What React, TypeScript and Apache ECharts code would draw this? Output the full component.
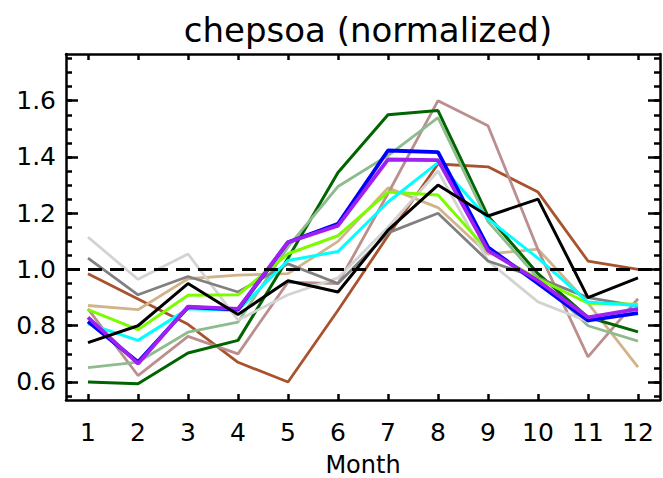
import React, { useEffect, useRef } from "react";
import * as echarts from "echarts";

const months = [1, 2, 3, 4, 5, 6, 7, 8, 9, 10, 11, 12];
const yMajor = [0.6, 0.8, 1.0, 1.2, 1.4, 1.6];
const yMinor = [0.55, 0.6, 0.65, 0.7, 0.75, 0.8, 0.85, 0.9, 0.95, 1.0, 1.05, 1.1, 1.15, 1.2, 1.25, 1.3, 1.35, 1.4, 1.45, 1.5, 1.55, 1.6, 1.65, 1.7, 1.75];

const brown = [0.985, 0.895, 0.805, 0.67, 0.6, 0.855, 1.12, 1.375, 1.365, 1.275, 1.03, 1.0];
const tan = [0.872, 0.857, 0.967, 0.98, 0.985, 1.1, 1.29, 1.22, 1.055, 1.072, 0.88, 0.653];
const rosy = [0.86, 0.623, 0.762, 0.7, 0.955, 0.95, 1.27, 1.6, 1.511, 1.07, 0.689, 0.896];
const darkGreen = [0.6, 0.594, 0.703, 0.748, 1.04, 1.345, 1.55, 1.565, 1.19, 0.985, 0.83, 0.778];
const seaGreen = [0.651, 0.671, 0.777, 0.813, 1.08, 1.295, 1.405, 1.54, 1.17, 0.97, 0.8, 0.745];
const lightGray = [1.115, 0.965, 1.055, 0.82, 0.91, 0.97, 1.15, 1.35, 1.03, 0.885, 0.815, 0.855];
const darkGray = [1.04, 0.91, 0.975, 0.92, 1.02, 0.95, 1.13, 1.2, 1.03, 0.97, 0.9, 0.87];
const lawnGreen = [0.857, 0.786, 0.908, 0.91, 1.056, 1.12, 1.275, 1.265, 1.067, 0.967, 0.88, 0.876];
const cyan = [0.807, 0.748, 0.86, 0.854, 1.032, 1.064, 1.24, 1.38, 1.18, 1.04, 0.884, 0.872];
const blue = [0.815, 0.671, 0.866, 0.857, 1.097, 1.162, 1.423, 1.417, 1.079, 0.95, 0.819, 0.845];
const purple = [0.83, 0.665, 0.868, 0.86, 1.097, 1.156, 1.391, 1.389, 1.067, 0.96, 0.83, 0.86];
const black = [0.74, 0.8, 0.95, 0.84, 0.96, 0.92, 1.14, 1.3, 1.19, 1.25, 0.9, 0.97];

const seriesDefs: { name: string; data: number[]; color: string; width: number }[] = [
  { name: "brown", data: brown, color: "#a8532e", width: 2.8 },
  { name: "tan", data: tan, color: "#d2b48c", width: 2.8 },
  { name: "rosy", data: rosy, color: "#bc8f8f", width: 2.8 },
  { name: "darkGreen", data: darkGreen, color: "#006400", width: 3 },
  { name: "seaGreen", data: seaGreen, color: "#8fbc8f", width: 2.8 },
  { name: "lightGray", data: lightGray, color: "#d3d3d3", width: 2.8 },
  { name: "darkGray", data: darkGray, color: "#808080", width: 2.8 },
  { name: "lawnGreen", data: lawnGreen, color: "#7cfc00", width: 3 },
  { name: "cyan", data: cyan, color: "#00ffff", width: 3 },
  { name: "blue", data: blue, color: "#0000ff", width: 3.8 },
  { name: "purple", data: purple, color: "#a020f0", width: 3.8 },
  { name: "black", data: black, color: "#000000", width: 3 },
];

const FONT = "DejaVu Sans";
const YMIN = 0.536;
const YMAX = 1.766;
const XMIN = 0.56;
const XMAX = 12.44;

export default function App() {
  const ref = useRef<HTMLDivElement>(null);
  useEffect(() => {
    if (!ref.current) return;
    const chart = echarts.init(ref.current, undefined, { renderer: "svg" });
    const lineStyle = { color: "#000", width: 2.5 };
    const yBase = { type: "value", min: YMIN, max: YMAX, splitLine: { show: false } };
    const option: any = {
      animation: false,
      backgroundColor: "#fff",
      title: {
        text: "chepsoa (normalized)",
        left: 363,
        top: 8,
        textAlign: "center",
        textStyle: { fontFamily: FONT, fontSize: 34, fontWeight: "normal", color: "#000" },
      },
      grid: { left: 66, right: 3, top: 54, bottom: 78, outerBoundsMode: "none", containLabel: false },
      xAxis: [
        {
          type: "value",
          min: XMIN,
          max: XMAX,
          position: "bottom",
          name: "Month",
          nameLocation: "middle",
          nameGap: 53,
          nameTextStyle: { fontFamily: FONT, fontSize: 24, color: "#000" },
          axisLine: { show: true, lineStyle },
          axisTick: { show: true, inside: true, length: 6, customValues: months, lineStyle },
          axisLabel: {
            show: true,
            customValues: months,
            margin: 20,
            fontFamily: FONT,
            fontSize: 25,
            color: "#000",
            formatter: (v: number) => String(Math.round(v)),
          },
          splitLine: { show: false },
        },
        {
          type: "value",
          min: XMIN,
          max: XMAX,
          position: "top",
          axisLine: { show: true, lineStyle },
          axisTick: { show: true, inside: true, length: 6, customValues: months, lineStyle },
          axisLabel: { show: false },
          splitLine: { show: false },
        },
      ],
      yAxis: [
        {
          ...yBase,
          position: "left",
          axisLine: { show: true, lineStyle },
          axisTick: { show: true, inside: true, length: 12, customValues: yMajor, lineStyle },
          axisLabel: {
            show: true,
            customValues: yMajor,
            margin: 10,
            fontFamily: FONT,
            fontSize: 25,
            color: "#000",
            formatter: (v: number) => v.toFixed(1),
          },
        },
        {
          ...yBase,
          position: "left",
          axisLine: { show: false },
          axisTick: { show: true, inside: true, length: 6, customValues: yMinor, lineStyle },
          axisLabel: { show: false },
        },
        {
          ...yBase,
          position: "right",
          axisLine: { show: true, lineStyle },
          axisTick: { show: true, inside: true, length: 12, customValues: yMajor, lineStyle },
          axisLabel: { show: false },
        },
        {
          ...yBase,
          position: "right",
          axisLine: { show: false },
          axisTick: { show: true, inside: true, length: 6, customValues: yMinor, lineStyle },
          axisLabel: { show: false },
        },
      ],
      series: [
        ...seriesDefs.map((s) => ({
          name: s.name,
          type: "line",
          xAxisIndex: 0,
          yAxisIndex: 0,
          symbol: "none",
          data: s.data.map((v, i) => [months[i], v]),
          lineStyle: { color: s.color, width: s.width },
          itemStyle: { color: s.color },
          silent: true,
        })),
        {
          name: "ref",
          type: "line",
          data: [],
          xAxisIndex: 0,
          yAxisIndex: 0,
          markLine: {
            silent: true,
            symbol: "none",
            label: { show: false },
            lineStyle: { color: "#000", width: 2.8, type: [14, 8] },
            data: [{ yAxis: 1.0 }],
          },
        },
      ],
    };
    chart.setOption(option);
    return () => chart.dispose();
  }, []);
  return (
    <div
      ref={ref}
      style={{ position: "fixed", left: 0, top: 0, width: 663, height: 478, background: "#fff" }}
    />
  );
}
